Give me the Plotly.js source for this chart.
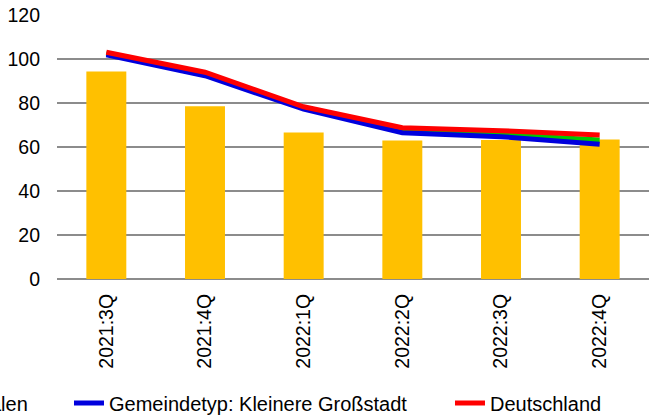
<!DOCTYPE html>
<html><head><meta charset="utf-8">
<script src="https://cdn.plot.ly/plotly-3.0.1.min.js"></script>
<style>
html,body{margin:0;padding:0;overflow:hidden;width:649px;height:419px;background:#fff}
#wrap{position:absolute;left:-900px;top:0;width:1600px;height:419px}
</style>
</head><body><div id="wrap"></div>
<script>
const quarters = ["2021:3Q","2021:4Q","2022:1Q","2022:2Q","2022:3Q","2022:4Q"];
const barName = "Stadt";
const barValues = [94.3, 78.5, 66.6, 63.0, 63.2, 63.4];
const greenName = "Bundesland: Nordrhein-Westfalen";
const greenValues = [102.5, 93.2, 77.8, 67.6, 65.8, 63.2];
const blueName = "Gemeindetyp: Kleinere Großstadt";
const blueValues = [101.9, 92.4, 77.2, 66.5, 64.7, 61.2];
const redName = "Deutschland";
const redValues = [103.1, 94.0, 78.3, 68.8, 67.4, 65.5];
const yTicks = [0, 20, 40, 60, 80, 100, 120];

const fam = "Liberation Sans, Arial, sans-serif";
const traces = [
  {type:"bar", name:barName, x:quarters, y:barValues, marker:{color:"#FFC000"}},
  {type:"scatter", mode:"lines", name:greenName, x:quarters, y:greenValues, line:{color:"#00C800", width:5}},
  {type:"scatter", mode:"lines", name:blueName, x:quarters, y:blueValues, line:{color:"#0000DD", width:5}},
  {type:"scatter", mode:"lines", name:redName, x:quarters, y:redValues, line:{color:"#FF0000", width:5}}
];
const layout = {
  width:1600, height:419,
  margin:{l:957, r:51, t:15, b:140, autoexpand:false},
  paper_bgcolor:"#fff", plot_bgcolor:"#fff",
  font:{family:fam, color:"#000", size:19.5},
  bargap:0.595,
  showlegend:true,
  xaxis:{type:"category", tickangle:-90, tickfont:{size:19.5, color:"#000"}, showgrid:false, showline:false, zeroline:false, ticks:"", ticklabelstandoff:10},
  yaxis:{range:[0,120], tickvals:yTicks, ticktext:yTicks.map(String), showgrid:true, gridcolor:"#8c8c8c", gridwidth:1.3, zeroline:true, zerolinecolor:"#8c8c8c", zerolinewidth:1.6, showline:false, ticks:"", ticklabelstandoff:16, tickfont:{size:19.5, color:"#000"}},
  legend:{orientation:"h", x:-1.2669, xanchor:"left", y:-0.47, yanchor:"middle", entrywidth:336, font:{size:20, color:"#000"}, bgcolor:"rgba(0,0,0,0)", traceorder:"normal"}
};
Plotly.newPlot("wrap", traces, layout, {displayModeBar:false, staticPlot:true});
</script>
</body></html>
